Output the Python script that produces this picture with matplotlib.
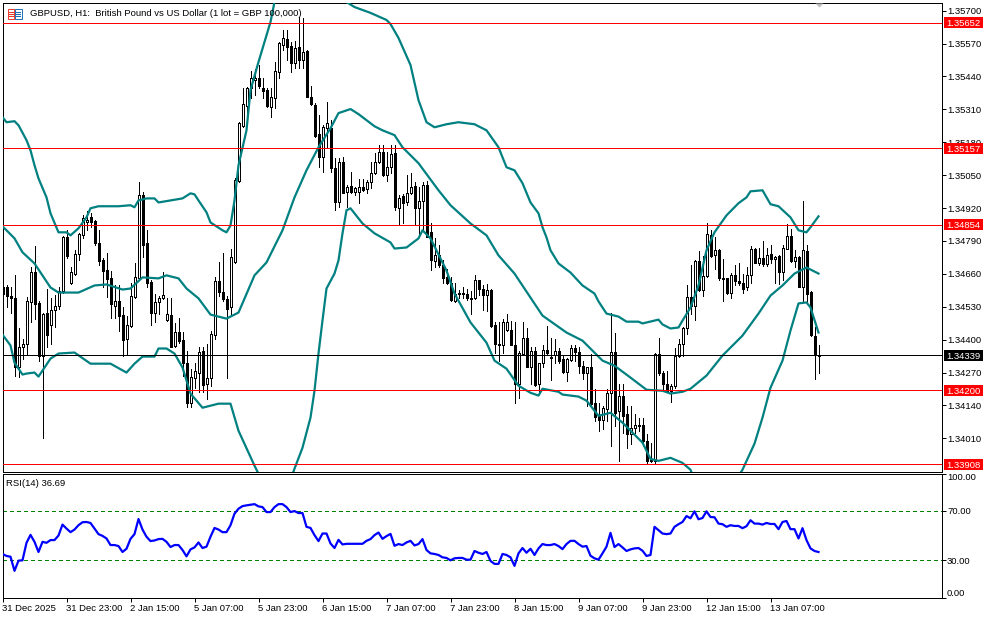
import numpy as np
from matplotlib import pyplot as plt
from matplotlib.patches import Rectangle

plt.rcParams['font.family'] = 'Liberation Sans'
plt.rcParams['font.size'] = 6.8

#  Candles, in points above 1.30000
opens = [4606, 4606, 4574, 4563, 4290, 4369, 4384, 4547, 4669, 4543, 4337, 4507, 4456, 4519, 4531, 4594, 4804, 4622, 4661, 4737, 4812, 4863, 4883, 4867, 4780, 4713, 4677, 4642, 4531, 4551, 4499, 4404, 4452, 4570, 4642, 4970, 4780, 4626, 4507, 4547, 4563, 4479, 4499, 4373, 4432, 4400, 4309, 4151, 4250, 4270, 4357, 4226, 4250, 4420, 4630, 4590, 4559, 4527, 4705, 5026, 5243, 5322, 5394, 5425, 5433, 5394, 5386, 5318, 5354, 5457, 5564, 5588, 5560, 5493, 5556, 5505, 5540, 5358, 5326, 5212, 5121, 5235, 5235, 5077, 4942, 5101, 4982, 5006, 4982, 4982, 5002, 4994, 5022, 5057, 5101, 5140, 5049, 5081, 5136, 4919, 4966, 4942, 4978, 5006, 4919, 4946, 5010, 4824, 4709, 4733, 4693, 4646, 4622, 4551, 4582, 4586, 4582, 4563, 4563, 4634, 4602, 4578, 4598, 4456, 4384, 4380, 4440, 4440, 4380, 4226, 4345, 4408, 4290, 4357, 4226, 4309, 4361, 4333, 4341, 4357, 4325, 4274, 4321, 4365, 4353, 4297, 4270, 4290, 4151, 4099, 4084, 4127, 4190, 4353, 4119, 4179, 4107, 4028, 4052, 4060, 4064, 4000, 3925, 3921, 4345, 4270, 4226, 4198, 4218, 4337, 4384, 4444, 4570, 4531, 4709, 4598, 4650, 4812, 4733, 4756, 4642, 4642, 4586, 4657, 4630, 4622, 4606, 4657, 4760, 4701, 4721, 4697, 4737, 4717, 4729, 4669, 4760, 4808, 4709, 4725, 4606, 4749, 4590, 4416, 4337]
highs = [4614, 4614, 4606, 4654, 4444, 4404, 4570, 4685, 4768, 4551, 4507, 4602, 4563, 4578, 4606, 4808, 4832, 4685, 4753, 4820, 4891, 4907, 4899, 4871, 4832, 4721, 4741, 4673, 4614, 4614, 4527, 4495, 4622, 4701, 5022, 4982, 4832, 4634, 4582, 4574, 4669, 4563, 4563, 4464, 4487, 4432, 4357, 4285, 4309, 4369, 4369, 4384, 4436, 4646, 4705, 4741, 4574, 4760, 5037, 5259, 5394, 5398, 5461, 5469, 5485, 5433, 5394, 5394, 5497, 5576, 5623, 5623, 5576, 5580, 5675, 5671, 5544, 5402, 5334, 5287, 5247, 5338, 5267, 5117, 5117, 5121, 5010, 5061, 5002, 5034, 5034, 5030, 5101, 5136, 5168, 5168, 5140, 5168, 5168, 4970, 4974, 5049, 5057, 5022, 5002, 5022, 5026, 4859, 4800, 4772, 4713, 4681, 4646, 4622, 4598, 4606, 4602, 4594, 4654, 4634, 4614, 4618, 4602, 4468, 4468, 4483, 4503, 4475, 4471, 4357, 4468, 4444, 4369, 4369, 4309, 4377, 4452, 4408, 4404, 4365, 4341, 4329, 4377, 4377, 4369, 4317, 4290, 4345, 4206, 4151, 4139, 4206, 4507, 4428, 4226, 4226, 4139, 4139, 4107, 4092, 4092, 4028, 3993, 4349, 4408, 4278, 4278, 4226, 4365, 4404, 4448, 4614, 4693, 4713, 4749, 4729, 4859, 4832, 4804, 4760, 4717, 4642, 4665, 4693, 4701, 4661, 4685, 4768, 4764, 4764, 4788, 4764, 4772, 4729, 4733, 4772, 4855, 4836, 4753, 4729, 4946, 4772, 4594, 4448, 4377]
lows = [4555, 4527, 4507, 4258, 4254, 4325, 4345, 4468, 4483, 4317, 4012, 4369, 4384, 4448, 4523, 4586, 4721, 4618, 4657, 4713, 4800, 4832, 4844, 4772, 4693, 4606, 4570, 4487, 4487, 4436, 4337, 4345, 4448, 4566, 4634, 4725, 4606, 4456, 4468, 4503, 4559, 4475, 4369, 4369, 4388, 4258, 4135, 4135, 4210, 4194, 4194, 4167, 4218, 4404, 4574, 4551, 4250, 4503, 4701, 5022, 5239, 5279, 5354, 5366, 5394, 5354, 5318, 5279, 5315, 5433, 5544, 5505, 5457, 5473, 5473, 5473, 5358, 5326, 5200, 5081, 5061, 5160, 5061, 4911, 4923, 4978, 4923, 4978, 4970, 4939, 4986, 4978, 4998, 5053, 5097, 5045, 5026, 5057, 4911, 4851, 4859, 4931, 4974, 4851, 4816, 4832, 4804, 4677, 4685, 4685, 4622, 4618, 4551, 4547, 4563, 4563, 4555, 4503, 4559, 4578, 4519, 4515, 4448, 4349, 4317, 4349, 4436, 4377, 4151, 4171, 4345, 4290, 4226, 4218, 4190, 4290, 4345, 4242, 4309, 4309, 4270, 4238, 4317, 4317, 4270, 4246, 4139, 4139, 4080, 4040, 4048, 4080, 3981, 4060, 3921, 4032, 3973, 3989, 4032, 4040, 3993, 3913, 3917, 3909, 4262, 4206, 4194, 4155, 4210, 4333, 4337, 4424, 4503, 4479, 4594, 4574, 4646, 4725, 4681, 4634, 4551, 4582, 4566, 4614, 4614, 4586, 4598, 4622, 4701, 4693, 4689, 4689, 4701, 4622, 4618, 4634, 4760, 4705, 4685, 4606, 4547, 4547, 4416, 4246, 4270]
closes = [4582, 4574, 4563, 4290, 4369, 4384, 4551, 4669, 4539, 4337, 4503, 4420, 4519, 4531, 4594, 4804, 4729, 4669, 4737, 4816, 4879, 4871, 4863, 4780, 4709, 4673, 4638, 4539, 4551, 4495, 4400, 4456, 4574, 4646, 4970, 4772, 4622, 4507, 4547, 4566, 4578, 4503, 4369, 4432, 4396, 4309, 4151, 4254, 4278, 4353, 4222, 4250, 4424, 4630, 4590, 4559, 4523, 4725, 5030, 5255, 5330, 5394, 5433, 5433, 5402, 5382, 5322, 5358, 5461, 5572, 5592, 5556, 5493, 5552, 5505, 5536, 5358, 5330, 5204, 5121, 5239, 5255, 5077, 4942, 5101, 4978, 5002, 4982, 4998, 5002, 4990, 5022, 5057, 5101, 5140, 5049, 5081, 5132, 4923, 4958, 4939, 4978, 5002, 4919, 4946, 5010, 4804, 4713, 4733, 4693, 4642, 4622, 4555, 4582, 4586, 4582, 4563, 4559, 4634, 4602, 4578, 4598, 4452, 4384, 4380, 4468, 4468, 4377, 4226, 4349, 4408, 4293, 4357, 4222, 4309, 4361, 4349, 4329, 4357, 4317, 4274, 4325, 4365, 4353, 4297, 4270, 4290, 4147, 4095, 4084, 4131, 4190, 4353, 4111, 4179, 4099, 4028, 4052, 4064, 4064, 4000, 3921, 3921, 4345, 4270, 4226, 4198, 4218, 4337, 4384, 4444, 4570, 4531, 4709, 4598, 4650, 4816, 4729, 4756, 4642, 4638, 4586, 4657, 4630, 4622, 4602, 4657, 4760, 4701, 4721, 4697, 4733, 4717, 4725, 4669, 4764, 4808, 4709, 4725, 4606, 4753, 4582, 4420, 4341, 4339]

#  Bollinger bands as (bar, points above 1.30000)
upper_bars = [0, 1, 3, 4, 6, 7, 8, 9, 11, 12, 14, 16, 17, 19, 21, 22, 24, 27, 29, 32, 33, 34, 36, 38, 39, 42, 45, 47, 48, 49, 51, 52, 55, 56, 57, 58, 59, 61, 62, 64, 67, 68, 71, 75, 80, 84, 86, 88, 92, 96, 97, 99, 102, 104, 106, 108, 111, 114, 118, 121, 124, 126, 128, 130, 132, 134, 135, 136, 137, 139, 142, 145, 148, 149, 151, 154, 156, 159, 160, 164, 165, 167, 169, 170, 172, 174, 176, 178, 181, 184, 186, 187, 190, 192, 194, 197, 199, 201, 202, 204]
upper_band = [5279, 5259, 5263, 5247, 5188, 5148, 5089, 5037, 4962, 4899, 4824, 4824, 4812, 4840, 4883, 4919, 4927, 4927, 4927, 4931, 4923, 4950, 4958, 4958, 4942, 4950, 4958, 4978, 4974, 4950, 4903, 4863, 4832, 4824, 4851, 4950, 5089, 5227, 5386, 5497, 5655, 5734, 5861, 5980, 5940, 5782, 5734, 5714, 5691, 5663, 5647, 5592, 5485, 5346, 5259, 5239, 5251, 5259, 5251, 5227, 5160, 5081, 5069, 5018, 4942, 4899, 4844, 4804, 4753, 4701, 4665, 4614, 4582, 4551, 4503, 4491, 4471, 4471, 4464, 4479, 4460, 4444, 4448, 4475, 4527, 4614, 4753, 4824, 4891, 4939, 4962, 4986, 4990, 4935, 4927, 4883, 4832, 4824, 4844, 4887]
middle_bars = [0, 1, 3, 5, 8, 12, 14, 19, 23, 26, 30, 32, 35, 39, 41, 44, 46, 49, 52, 56, 59, 63, 66, 70, 73, 76, 79, 82, 84, 87, 89, 93, 95, 98, 100, 104, 109, 112, 117, 121, 124, 128, 132, 135, 141, 145, 150, 153, 157, 161, 165, 167, 170, 172, 176, 180, 185, 189, 192, 195, 198, 201, 204]
middle_band = [4847, 4832, 4800, 4745, 4701, 4606, 4586, 4586, 4614, 4618, 4598, 4602, 4646, 4642, 4654, 4642, 4602, 4563, 4499, 4483, 4507, 4654, 4705, 4832, 4962, 5069, 5160, 5235, 5295, 5311, 5291, 5243, 5227, 5208, 5160, 5097, 4990, 4931, 4859, 4812, 4733, 4661, 4566, 4495, 4428, 4396, 4317, 4297, 4250, 4202, 4198, 4187, 4194, 4206, 4258, 4337, 4416, 4503, 4574, 4614, 4661, 4685, 4661]
lower_bars = [0, 2, 3, 5, 6, 8, 9, 12, 14, 18, 22, 27, 31, 33, 35, 38, 39, 41, 43, 45, 47, 50, 54, 57, 59, 63, 64, 68, 71, 73, 75, 77, 78, 79, 80, 81, 83, 84, 85, 86, 87, 90, 93, 97, 98, 101, 104, 105, 107, 111, 113, 117, 121, 123, 126, 129, 132, 134, 135, 139, 140, 144, 146, 149, 152, 155, 160, 162, 164, 167, 170, 172, 174, 180, 185, 188, 190, 192, 195, 197, 199, 201, 202, 204]
lower_band = [4420, 4377, 4309, 4262, 4266, 4270, 4254, 4325, 4345, 4349, 4305, 4305, 4270, 4305, 4333, 4333, 4365, 4365, 4345, 4290, 4187, 4131, 4147, 4147, 4040, 3902, 3870, 3783, 3803, 3890, 3973, 4092, 4198, 4345, 4476, 4602, 4661, 4713, 4820, 4911, 4919, 4859, 4820, 4784, 4760, 4764, 4800, 4832, 4800, 4673, 4582, 4468, 4388, 4317, 4285, 4218, 4190, 4179, 4206, 4194, 4183, 4175, 4159, 4099, 4111, 4072, 3993, 3929, 3921, 3933, 3913, 3886, 3803, 3763, 3886, 3989, 4092, 4210, 4317, 4436, 4543, 4547, 4527, 4428]

rsi = [35.1, 33.5, 32.9, 21.5, 29.7, 30.0, 44.1, 50.5, 44.9, 36.7, 44.9, 44.1, 46.3, 46.3, 50.0, 58.8, 55.6, 52.7, 54.8, 58.3, 60.7, 60.9, 60.1, 55.6, 51.1, 49.7, 47.6, 42.3, 42.3, 41.5, 36.7, 39.3, 47.3, 51.1, 63.3, 54.8, 49.0, 45.5, 46.0, 47.1, 47.3, 44.9, 40.7, 42.3, 42.3, 38.3, 33.2, 38.8, 40.4, 44.4, 39.9, 41.0, 49.0, 56.1, 54.8, 52.7, 52.7, 58.3, 67.6, 71.6, 73.7, 74.3, 74.8, 75.3, 73.5, 72.9, 68.9, 68.9, 72.9, 75.3, 75.3, 72.9, 68.9, 69.7, 68.1, 68.1, 57.0, 56.1, 50.3, 45.5, 51.6, 51.6, 43.6, 39.9, 46.5, 42.8, 43.3, 43.3, 43.3, 43.3, 43.3, 45.7, 47.1, 50.3, 52.4, 47.3, 49.5, 51.3, 41.7, 43.1, 42.3, 44.4, 45.7, 42.0, 43.1,
       47.1, 38.3, 35.6, 35.1, 34.3, 32.4, 31.9, 30.0, 31.6, 31.9, 31.9, 30.5, 30.5, 37.5, 36.1, 35.1, 36.7, 29.5, 27.1, 27.1, 35.1, 34.3, 32.4, 25.5, 35.6, 39.9, 36.1, 39.3, 34.3, 39.6, 43.1, 42.3, 42.3, 43.1, 41.5, 39.0, 43.1, 45.7, 45.7, 43.1, 41.0, 41.5, 33.7, 31.6, 30.5, 35.6, 41.0, 52.1, 40.7, 43.1, 40.4, 37.5, 38.8, 39.6, 39.9, 37.7, 33.5, 34.3, 57.0, 54.3, 51.6, 51.1, 51.6, 57.0, 59.1, 60.9, 65.7, 63.9, 69.5, 63.1, 64.1, 69.5, 64.9, 64.7, 59.6, 59.1, 57.0, 58.3, 57.7, 57.7, 55.9, 57.5, 62.3, 59.6, 59.6, 58.8, 60.1, 59.3, 59.3, 55.1, 60.9, 61.7, 55.1, 55.1, 47.6, 55.9, 46.3, 39.6, 37.5, 36.69]

red_levels = [1.35652, 1.35157, 1.34854, 1.34200, 1.33908]
last_price = 1.34339
price_ticks = [1.34010, 1.34140, 1.34270, 1.34400, 1.34530, 1.34660, 1.34790, 1.34920, 1.35050, 1.35180, 1.35310, 1.35440, 1.35570, 1.35700]
rsi_ticks = [0, 30, 70, 100]
time_ticks = [0, 16, 32, 48, 64, 80, 96, 112, 128, 144, 160, 176, 192]
time_labels = ["31 Dec 2025", "31 Dec 23:00", "2 Jan 15:00", "5 Jan 07:00", "5 Jan 23:00", "6 Jan 15:00", "7 Jan 07:00", "7 Jan 23:00", "8 Jan 15:00", "9 Jan 07:00", "9 Jan 23:00", "12 Jan 15:00", "13 Jan 07:00"]


def to_price(points):
    return 1.3 + np.array(points) / 1e5


W, H = 994, 618
fig = plt.figure(figsize=(W / 100, H / 100), dpi=100)
left, right = 2.5 / W, 941.5 / W
ax = fig.add_axes([left, 1 - 471.5 / H, right - left, (471.5 - 2.5) / H])
ax_rsi = fig.add_axes([left, 1 - 597.5 / H, right - left, (597.5 - 473.5) / H])

o, h, l, c = to_price(opens), to_price(highs), to_price(lows), to_price(closes)
bars = np.arange(len(opens))
ax.vlines(bars, l, h, color="black", lw=0.6, antialiased=False, zorder=2)
up = c >= o
ax.bar(bars[up], (c - o)[up], bottom=o[up], width=0.5, facecolor="white", edgecolor="black", lw=0.6, antialiased=False, zorder=2.2)
ax.bar(bars[~up], (o - c)[~up], bottom=c[~up], width=0.5, facecolor="black", edgecolor="black", lw=0.6, antialiased=False, zorder=2.2)

#  Bands
for b, v in [(upper_bars, upper_band), (middle_bars, middle_band), (lower_bars, lower_band)]:
    ax.plot(b, to_price(v), color="#008080", lw=1.6, zorder=3)

#  Horizontal levels and their price boxes
box_x = (944 - 2.5) / 939
box_w = 39 / 939
box_h = 11 * 3.95e-5
trans = ax.get_yaxis_transform()
for level, col in [(p, "#FF0000") for p in red_levels] + [(last_price, "black")]:
    ax.axhline(level, color=col, lw=0.7, antialiased=False, zorder=4)
    ax.add_patch(Rectangle((box_x, level - box_h / 2), box_w, box_h, transform=trans, facecolor=col, edgecolor="none", clip_on=False, zorder=6))
    ax.text(box_x + box_w / 2, level, "%.5f" % level, transform=trans, color="white", ha="center", va="center_baseline", zorder=7)

ax.set_xlim(0, 234.75)
ax.set_ylim(1.33879, 1.35732)
ax.set_yticks(price_ticks)
ax.set_yticklabels(["%.5f" % p for p in price_ticks])
ax.set_xticks([])
ax.yaxis.tick_right()
ax.tick_params(axis="y", length=3, width=0.72, pad=1)

#  Small marker for the last bar
ax.plot(204, 1.35721, marker=[(-1, 0.5), (1, 0.5), (0, -0.5)], ms=5.8, color="#C0C0C0", mec="none", zorder=5)

#  Title and its icon
ax.text(28 / 939, 1 - 11 / 469, "GBPUSD, H1:  British Pound vs US Dollar (1 lot = GBP 100,000)", transform=ax.transAxes, va="center", ha="left", zorder=8)
for x0, col in [(7.5, "#E8392E"), (15, "#1E6FB8")]:
    fig.add_artist(Rectangle((x0 / W, 1 - 18.5 / H), 6.5 / W, 9.5 / H, facecolor="white", edgecolor=col, lw=0.7))
    for yy in [11.5, 13.7, 16]:
        fig.add_artist(plt.Line2D([(x0 + 1.3) / W, (x0 + 5.3) / W], [1 - yy / H, 1 - yy / H], color=col, lw=0.75))

#  RSI panel
ax_rsi.plot(bars, rsi, color="#0000FF", lw=1.6, zorder=3)
for level in [30, 70]:
    ax_rsi.axhline(level, color="#008000", lw=0.7, dashes=(4, 4), antialiased=False, zorder=2)
ax_rsi.set_xlim(0, 234.75)
ax_rsi.set_ylim(0, 100)
ax_rsi.yaxis.tick_right()
ax_rsi.set_yticks(rsi_ticks)
ax_rsi.set_yticklabels(["%.2f" % r for r in rsi_ticks])
ax_rsi.tick_params(axis="y", length=3, width=0.72, pad=1)
ax_rsi.get_yticklabels()[0].set_va("bottom")
ax_rsi.get_yticklabels()[-1].set_va("top")
ax_rsi.set_xticks(time_ticks)
ax_rsi.set_xticklabels(time_labels, ha="left")
ax_rsi.tick_params(axis="x", length=3, width=0.72, pad=1.5)
ax_rsi.text(3.5 / 939, 1 - 9.5 / 124, "RSI(14) 36.69", transform=ax_rsi.transAxes, va="center", ha="left")

for a in [ax, ax_rsi]:
    for s in a.spines.values():
        s.set_linewidth(0.72)

plt.savefig("out.png", dpi=100)
